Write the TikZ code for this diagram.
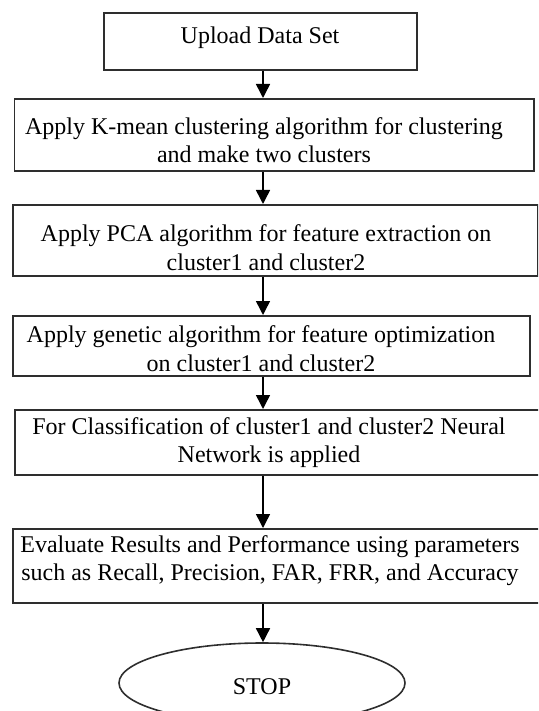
\documentclass[tikz,border=0pt]{standalone}
\usepackage{fontspec}
\setmainfont{Liberation Serif}
\usetikzlibrary{arrows.meta,shapes.geometric}
\definecolor{boxgray}{HTML}{2E2E2E}
\begin{document}
\begin{tikzpicture}[x=1pt,y=-1pt,
  box/.style={draw=boxgray, line width=1.8pt, anchor=north west, inner sep=0pt},
  txt/.style={align=center, font=\fontsize{24}{28.5}\selectfont, inner sep=0pt, text=black},
  arr/.style={draw=black, line width=1.5pt, -{Triangle[length=14pt,width=14pt]}}]
\useasboundingbox (0,0) rectangle (538,711);
\clip (0,0) rectangle (538,711);
\coordinate (ax) at (263,0);
% boxes
\node[box, minimum width=313pt, minimum height=57pt] (b1) at (103,12) {};
\node[box, minimum width=519.5pt, minimum height=72pt] (b2) at (13.5,98) {};
\node[box, minimum width=525pt, minimum height=71pt] (b3) at (12,204) {};
\node[box, minimum width=517pt, minimum height=60pt] (b4) at (12,315) {};
\node[box, minimum width=546pt, minimum height=65pt] (b5) at (14,409) {};
\node[box, minimum width=548pt, minimum height=74pt] (b6) at (12,528) {};
\node[draw=boxgray, line width=1.6pt, ellipse, minimum width=286pt, minimum height=80pt, inner sep=0pt] (e) at (262,683) {};
% texts
\node[txt] (t1) at (260,38) {Upload Data Set};
\node[txt] (t2) at (264,140) {Apply K-mean clustering algorithm for clustering\\and make two clusters};
\node[txt] (t3) at (266,247.5) {Apply PCA algorithm for feature extraction on\\cluster1 and cluster2};
\node[txt] (t4) at (261,348.5) {Apply genetic algorithm for feature optimization\\on cluster1 and cluster2};
\node[txt] (t5) at (269,442.5) {For Classification of cluster1 and cluster2 Neural\\Network is applied};
\node[txt] (t6) at (270,560.5) {Evaluate Results and Performance using parameters\\such as Recall, Precision, FAR, FRR, and Accuracy};
\node[txt] (t7) at (262,687) {STOP};
% arrows
\draw[arr] (b1.south -| ax) -- (b2.north -| ax);
\draw[arr] (b2.south -| ax) -- (b3.north -| ax);
\draw[arr] (b3.south -| ax) -- (b4.north -| ax);
\draw[arr] (b4.south -| ax) -- (b5.north -| ax);
\draw[arr] (b5.south -| ax) -- (b6.north -| ax);
\draw[arr] (b6.south -| ax) -- (e.north -| ax);
\end{tikzpicture}
\end{document}
